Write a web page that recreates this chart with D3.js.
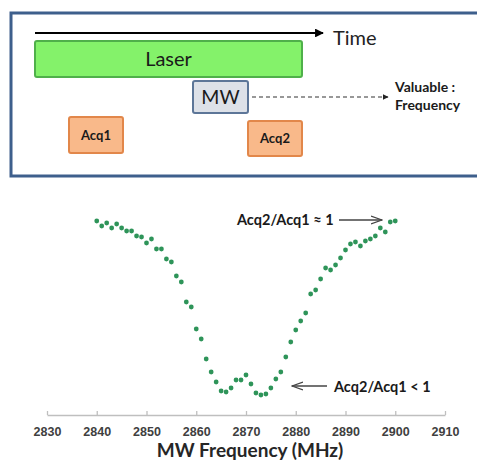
<!DOCTYPE html>
<html>
<head>
<meta charset="utf-8">
<script src="https://cdn.jsdelivr.net/npm/d3@7"></script>
<style>
  body { margin: 0; background: #fff; }
  svg { display: block; font-family: Lato, "Open Sans", sans-serif; }
  .axis path, .axis line { stroke: #bfbfbf; stroke-width: 1.3; }
  .axis text { font-size: 12.5px; font-weight: bold; fill: #404040; }
</style>
</head>
<body>
<svg width="477" height="468"></svg>
<script>
// Measured ratio Acq2/Acq1 versus MW frequency
const freqs = [
	2840, 2841, 2842, 2843, 2844, 2845, 2846, 2847, 2848, 2849,
	2850, 2851, 2852, 2853, 2854, 2855, 2856, 2857, 2858, 2859,
	2860, 2861, 2862, 2863, 2864, 2865, 2866, 2867, 2868, 2869,
	2870, 2871, 2872, 2873, 2874, 2875, 2876, 2877, 2878, 2879,
	2880, 2881, 2882, 2883, 2884, 2885, 2886, 2887, 2888, 2889,
	2890, 2891, 2892, 2893, 2894, 2895, 2896, 2897, 2898, 2899,
	2900
];
const ratios = [
	0.999, 0.994, 0.997, 0.992, 0.996, 0.992, 0.989, 0.989, 0.984, 0.983,
	0.977, 0.981, 0.971, 0.971, 0.961, 0.958, 0.944, 0.938, 0.918, 0.913,
	0.891, 0.881, 0.861, 0.848, 0.838, 0.829, 0.828, 0.832, 0.840, 0.840,
	0.845, 0.836, 0.827, 0.825, 0.826, 0.832, 0.841, 0.848, 0.863, 0.878,
	0.890, 0.899, 0.907, 0.926, 0.930, 0.941, 0.952, 0.950, 0.955, 0.962,
	0.970, 0.976, 0.978, 0.974, 0.979, 0.981, 0.984, 0.992, 0.988, 0.998,
	0.999
];
const xTicks = [2830, 2840, 2850, 2860, 2870, 2880, 2890, 2900, 2910];

// Pulse sequence blocks (times in arbitrary units, rows top to bottom)
const pulses = [
	{ name: 'Laser', start: 0, end: 267, row: 0, fill: '#84f26a', stroke: '#4fb04a', size: 20, weight: 'normal' },
	{ name: 'MW', start: 158, end: 213, row: 1, fill: '#dde1e8', stroke: '#5d7698', size: 19.5, weight: 'normal' },
	{ name: 'Acq1', start: 34, end: 88, row: 2, fill: '#f9b98a', stroke: '#e2874a', size: 13, weight: 'bold' },
	{ name: 'Acq2', start: 213, end: 267, row: 3, fill: '#f9b98a', stroke: '#e2874a', size: 13, weight: 'bold' }
];
const rowTops = [41, 81, 117, 121];
const rowHeights = [36, 32, 36, 35];

const svg = d3.select('svg');

const defs = svg.append('defs');
defs.append('marker')
	.attr('id', 'head')
	.attr('viewBox', '0 0 10 10')
	.attr('refX', 9).attr('refY', 5)
	.attr('markerWidth', 4).attr('markerHeight', 4)
	.attr('markerUnits', 'strokeWidth')
	.attr('orient', 'auto')
	.append('path').attr('d', 'M0 0 L10 5 L0 10 Z').attr('fill', '#000');
defs.append('marker')
	.attr('id', 'headThin')
	.attr('viewBox', '0 0 10 10')
	.attr('refX', 9).attr('refY', 5)
	.attr('markerWidth', 5).attr('markerHeight', 5)
	.attr('orient', 'auto')
	.append('path').attr('d', 'M0 0 L10 5 L0 10 Z').attr('fill', '#222');
defs.append('marker')
	.attr('id', 'headOpen')
	.attr('viewBox', '0 0 12 10')
	.attr('refX', 11).attr('refY', 5)
	.attr('markerWidth', 12).attr('markerHeight', 10)
	.attr('markerUnits', 'userSpaceOnUse')
	.attr('orient', 'auto')
	.append('path').attr('d', 'M0 1 L11 5 L0 9').attr('fill', 'none').attr('stroke', '#444').attr('stroke-width', 1.3);

// ---- timing diagram ----
const tScale = d3.scaleLinear().domain([0, 267]).range([35, 302]);

svg.append('rect')
	.attr('x', 11).attr('y', 13)
	.attr('width', 480).attr('height', 163)
	.attr('fill', '#fff')
	.attr('stroke', '#3e5f8c')
	.attr('stroke-width', 3);

svg.append('line')
	.attr('x1', tScale(0)).attr('x2', tScale(288))
	.attr('y1', 33).attr('y2', 33)
	.attr('stroke', '#000').attr('stroke-width', 2.2)
	.attr('marker-end', 'url(#head)');

svg.append('text')
	.attr('x', 333).attr('y', 45)
	.attr('font-size', 20)
	.attr('fill', '#222')
	.text('Time');

const blocks = svg.selectAll('.pulse')
	.data(pulses)
	.enter()
	.append('g')
	.attr('class', 'pulse');

blocks.append('rect')
	.attr('x', (d) => tScale(d.start))
	.attr('y', (d) => rowTops[d.row])
	.attr('width', (d) => tScale(d.end) - tScale(d.start))
	.attr('height', (d) => rowHeights[d.row])
	.attr('rx', 2)
	.attr('fill', (d) => d.fill)
	.attr('stroke', (d) => d.stroke)
	.attr('stroke-width', 2);

blocks.append('text')
	.attr('x', (d) => (tScale(d.start) + tScale(d.end)) / 2)
	.attr('y', (d) => rowTops[d.row] + rowHeights[d.row] / 2)
	.attr('dy', '0.36em')
	.attr('text-anchor', 'middle')
	.attr('font-size', (d) => d.size)
	.attr('font-weight', (d) => d.weight)
	.attr('fill', '#1a1a1a')
	.text((d) => d.name);

svg.append('line')
	.attr('x1', tScale(217)).attr('x2', tScale(353))
	.attr('y1', 97).attr('y2', 97)
	.attr('stroke', '#333').attr('stroke-width', 1.2)
	.attr('stroke-dasharray', '4 3')
	.attr('marker-end', 'url(#headThin)');

svg.append('text')
	.attr('x', 395).attr('y', 92)
	.attr('font-size', 14).attr('font-weight', 'bold').attr('fill', '#1a1a1a')
	.text('Valuable :');
svg.append('text')
	.attr('x', 395).attr('y', 110)
	.attr('font-size', 14).attr('font-weight', 'bold').attr('fill', '#1a1a1a')
	.text('Frequency');

// ---- resonance scatter ----
const x = d3.scaleLinear().domain([2830, 2910]).range([47, 445]);
const y = d3.scaleLinear().domain([0.8, 1.0]).range([420, 220]);

const axis = d3.axisBottom(x)
	.tickValues(xTicks)
	.tickFormat(d3.format('d'))
	.tickSizeInner(-4)
	.tickSizeOuter(0)
	.tickPadding(12);

svg.append('g')
	.attr('class', 'axis')
	.attr('transform', 'translate(0, 415)')
	.call(axis);

svg.append('text')
	.attr('x', 250).attr('y', 457)
	.attr('text-anchor', 'middle')
	.attr('font-size', 19).attr('font-weight', 'bold').attr('fill', '#262626')
	.text('MW Frequency (MHz)');

svg.append('g')
	.selectAll('circle')
	.data(freqs)
	.enter()
	.append('circle')
	.attr('cx', (d) => x(d))
	.attr('cy', (d, i) => y(ratios[i]))
	.attr('r', 2.4)
	.attr('fill', '#2e9459');

svg.append('text')
	.attr('x', 237).attr('y', 225)
	.attr('font-size', 14.5).attr('font-weight', 'bold').attr('fill', '#1a1a1a')
	.text('Acq2/Acq1 \u2248 1');
svg.append('line')
	.attr('x1', 339).attr('x2', 382)
	.attr('y1', 220).attr('y2', 220)
	.attr('stroke', '#444').attr('stroke-width', 1.3)
	.attr('marker-end', 'url(#headOpen)');

svg.append('text')
	.attr('x', 334).attr('y', 392)
	.attr('font-size', 14.5).attr('font-weight', 'bold').attr('fill', '#1a1a1a')
	.text('Acq2/Acq1 < 1');
svg.append('line')
	.attr('x1', 327).attr('x2', 292)
	.attr('y1', 386).attr('y2', 386)
	.attr('stroke', '#444').attr('stroke-width', 1.3)
	.attr('marker-end', 'url(#headOpen)');
</script>
</body>
</html>
